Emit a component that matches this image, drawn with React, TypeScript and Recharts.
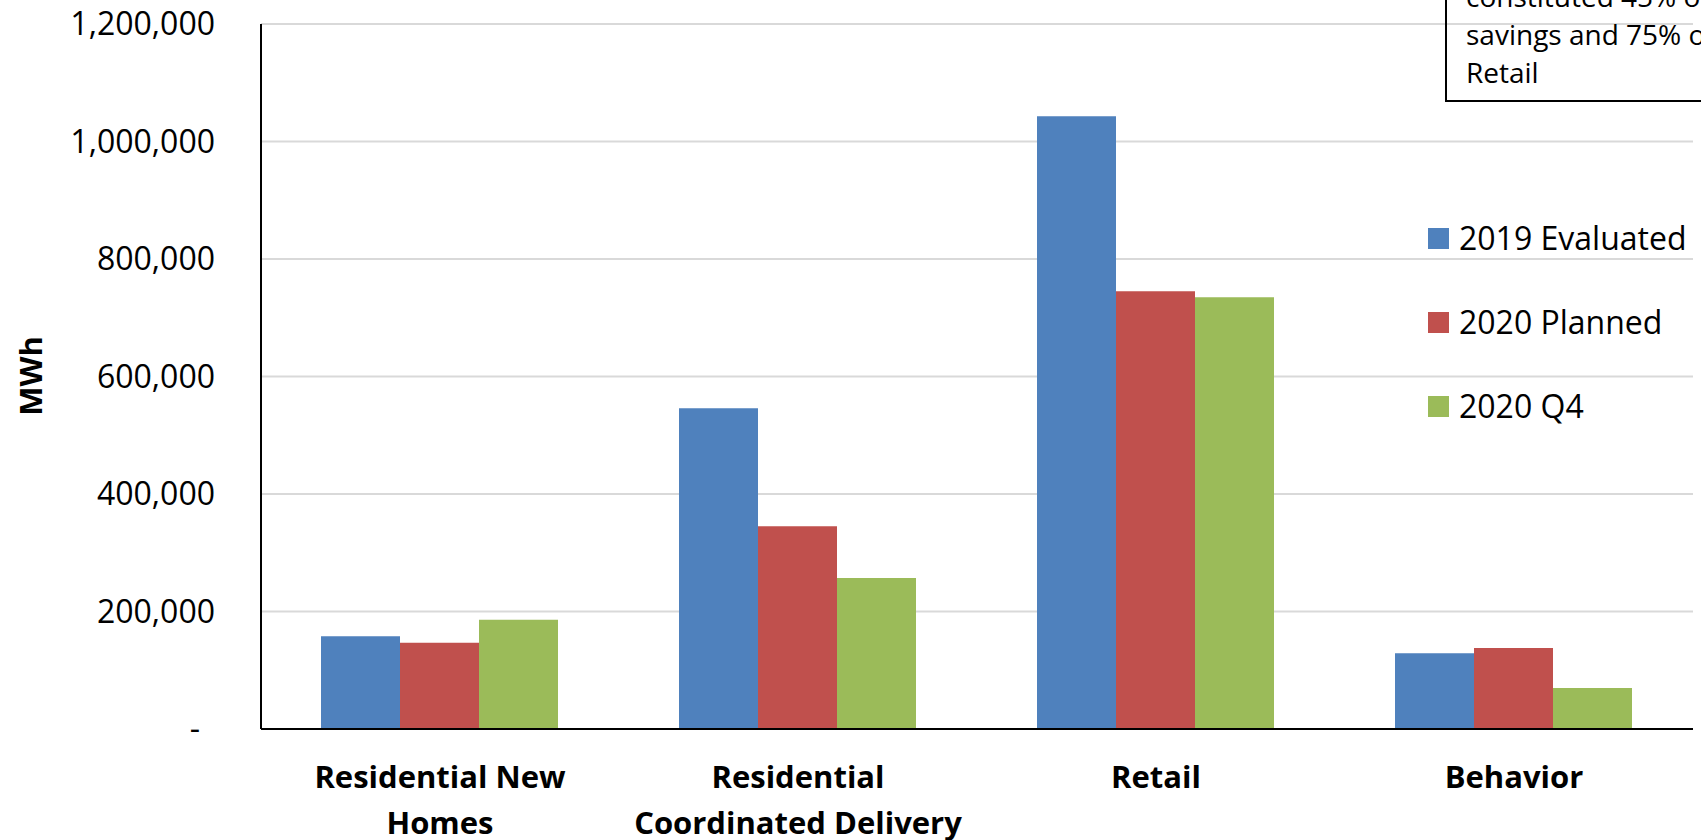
import React from "react";
import { BarChart, Bar, XAxis, YAxis, CartesianGrid, Legend } from "recharts";

const categories = [
  "Residential New Homes",
  "Residential Coordinated Delivery",
  "Retail",
  "Behavior",
];
const categoryLines = [
  ["Residential New", "Homes"],
  ["Residential", "Coordinated Delivery"],
  ["Retail"],
  ["Behavior"],
];
const evaluated2019 = [158000, 546000, 1043000, 129000];
const planned2020 = [147000, 345000, 745000, 138000];
const q4of2020 = [186000, 257000, 735000, 70000];
const yTicks = [0, 200000, 400000, 600000, 800000, 1000000, 1200000];
const seriesNames = ["2019 Evaluated", "2020 Planned", "2020 Q4"];
const seriesColors = ["#4F81BD", "#C0504D", "#9BBB59"];
const noteLines = ["constituted 45% of", "savings and 75% of", "Retail"];

const data = categories.map((c, i) => ({
  name: c,
  s0: evaluated2019[i],
  s1: planned2020[i],
  s2: q4of2020[i],
}));

const FONT = '"Open Sans", sans-serif';

const YTick = (props: any) => {
  const { x, y, payload } = props;
  const v = payload.value as number;
  const isZero = v === 0;
  return (
    <text
      x={isZero ? x - 15 : x}
      y={y}
      dy="0.355em"
      textAnchor="end"
      fontSize={32}
      fontFamily={FONT}
      fill="#000"
    >
      {isZero ? "-" : v.toLocaleString("en-US")}
    </text>
  );
};

const XTick = (props: any) => {
  const { x, y, payload } = props;
  const idx = categories.indexOf(payload.value);
  const lines = categoryLines[idx] || [payload.value];
  return (
    <g>
      {lines.map((l: string, i: number) => (
        <text
          key={i}
          x={x}
          y={y + 59 + i * 46}
          textAnchor="middle"
          fontSize={31}
          fontWeight={700}
          fontFamily={FONT}
          fill="#000"
        >
          {l}
        </text>
      ))}
    </g>
  );
};

const LegendContent = () => (
  <div style={{ fontFamily: FONT }}>
    {seriesNames.map((n, i) => (
      <div
        key={n}
        style={{
          position: "absolute",
          left: 0,
          top: i * 84 - 42,
          height: 84,
          display: "flex",
          alignItems: "center",
          whiteSpace: "nowrap",
        }}
      >
        <div style={{ width: 21, height: 21, background: seriesColors[i], marginRight: 10 }} />
        <span style={{ fontSize: 32, color: "#000", lineHeight: "84px" }}>{n}</span>
      </div>
    ))}
  </div>
);

export default function App() {
  return (
    <div
      style={{
        position: "absolute",
        left: 0,
        top: 0,
        width: 1701,
        height: 840,
        overflow: "hidden",
        background: "#fff",
      }}
    >
      <BarChart
        width={1701}
        height={840}
        data={data}
        margin={{ top: 24, right: 8, bottom: 0, left: 0 }}
        barCategoryGap={60}
        barGap={0}
        style={{ fontFamily: FONT }}
      >
        <CartesianGrid vertical={false} stroke="#d9d9d9" strokeWidth={2} />
        <XAxis
          dataKey="name"
          height={111}
          tickLine={false}
          tickSize={0}
          tickMargin={0}
          interval={0}
          axisLine={{ stroke: "#000", strokeWidth: 2 }}
          tick={<XTick />}
        />
        <YAxis
          width={261}
          domain={[0, 1200000]}
          ticks={yTicks}
          tickLine={false}
          tickSize={0}
          tickMargin={46}
          interval={0}
          axisLine={{ stroke: "#000", strokeWidth: 2 }}
          tick={<YTick />}
          label={{
            content: () => (
              <text
                x={42}
                y={376}
                transform="rotate(-90, 42, 376)"
                textAnchor="middle"
                fontSize={31}
                fontWeight={700}
                fontFamily={FONT}
                fill="#000"
              >
                MWh
              </text>
            ),
          }}
        />
        <Legend
          layout="vertical"
          align="center"
          verticalAlign="middle"
          content={<LegendContent />}
          wrapperStyle={{ left: 1428, top: 238, width: 273, height: 10 }}
        />
        <Bar dataKey="s0" name={seriesNames[0]} fill={seriesColors[0]} isAnimationActive={false} />
        <Bar dataKey="s1" name={seriesNames[1]} fill={seriesColors[1]} isAnimationActive={false} />
        <Bar dataKey="s2" name={seriesNames[2]} fill={seriesColors[2]} isAnimationActive={false} />
      </BarChart>
      <div
        style={{
          position: "absolute",
          left: 1445,
          top: -70,
          width: 400,
          height: 172,
          boxSizing: "border-box",
          border: "2px solid #000",
          borderRight: "none",
          paddingTop: 45,
          paddingLeft: 19,
          fontFamily: FONT,
          fontSize: 28,
          lineHeight: "38px",
          color: "#000",
          whiteSpace: "nowrap",
        }}
      >
        {noteLines.map((l) => (
          <div key={l}>{l}</div>
        ))}
      </div>
    </div>
  );
}
